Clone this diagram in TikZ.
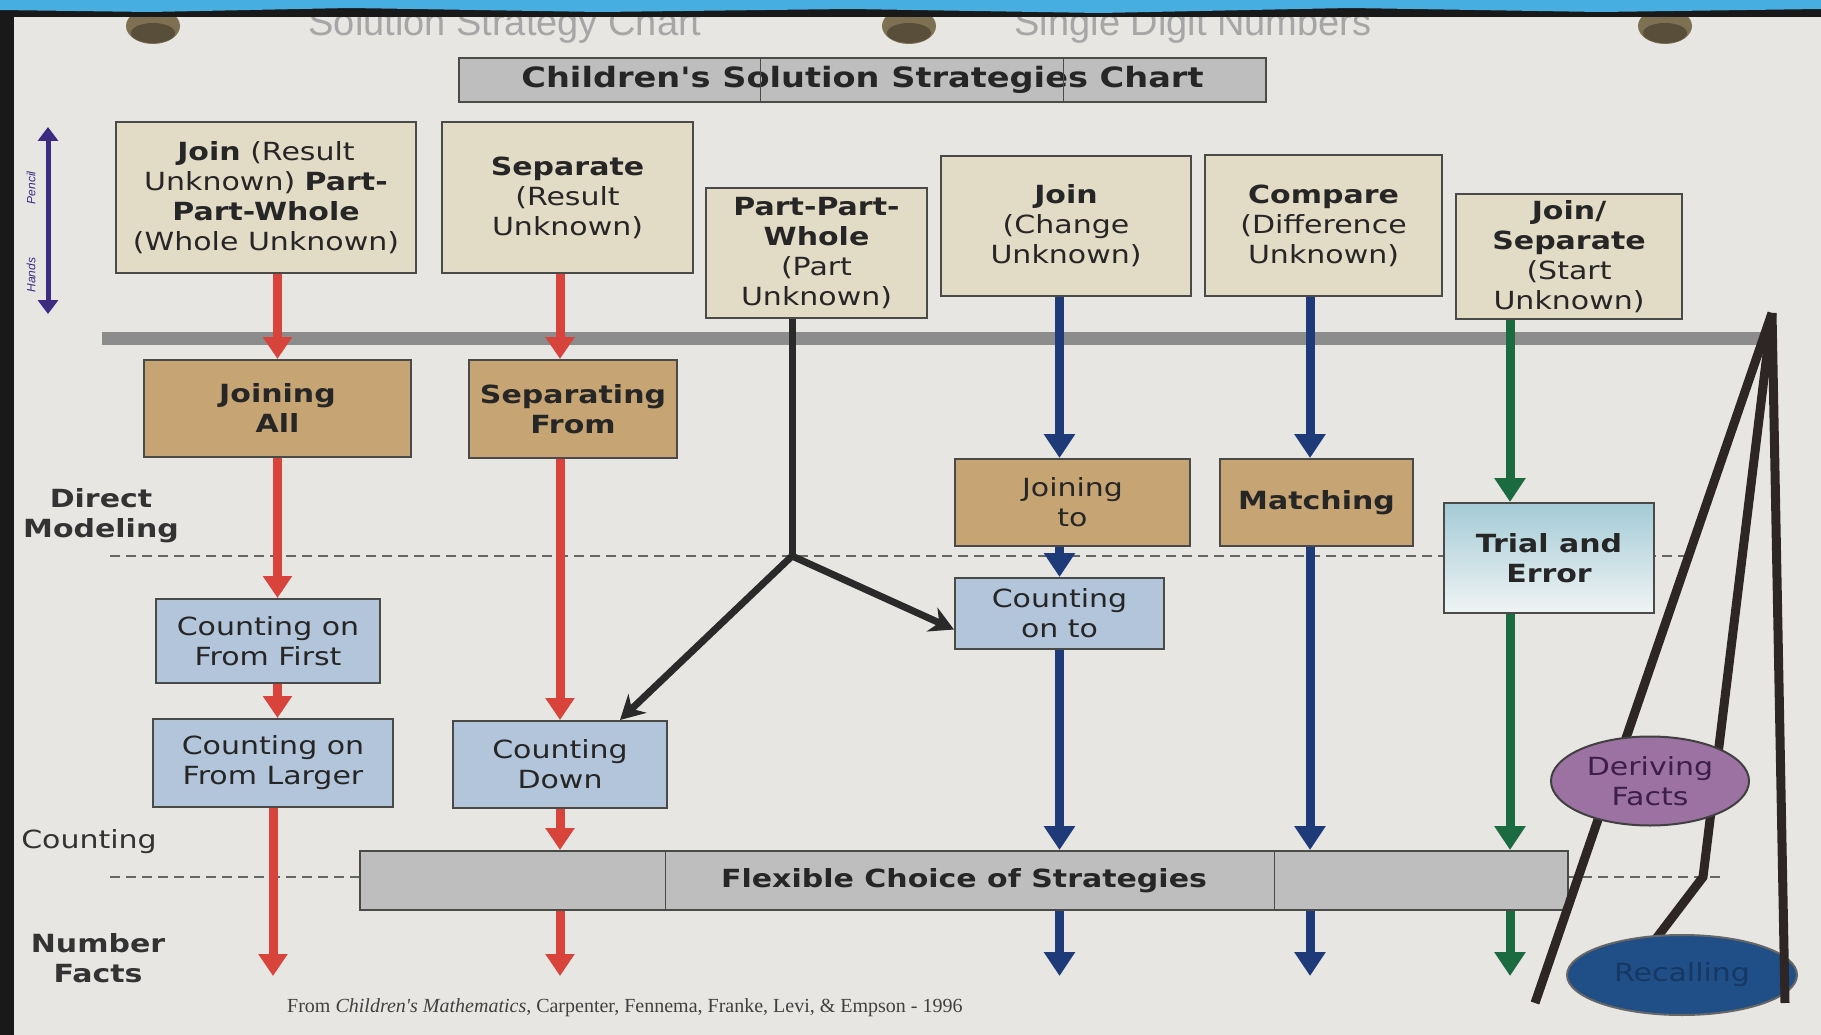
\documentclass[tikz,border=0pt]{standalone}
\usepackage{fontspec}
\usetikzlibrary{arrows.meta,calc,shapes.geometric}
\newfontfamily\comic{DejaVu Sans}[FakeStretch=1.2]
\newfontfamily\citefont{Liberation Serif}
\newfontfamily\handfont{Liberation Sans}
\definecolor{paper}{HTML}{E8E6E3}
\definecolor{beige}{HTML}{E2DBC6}
\definecolor{tanc}{HTML}{C6A473}
\definecolor{steel}{HTML}{B3C5DB}
\definecolor{marble}{HTML}{BEBEBE}
\definecolor{boxline}{HTML}{4A4A48}
\definecolor{redc}{HTML}{D8433C}
\definecolor{navyc}{HTML}{1E3A78}
\definecolor{greenc}{HTML}{1C6A40}
\definecolor{blackc}{HTML}{2A2A2A}
\definecolor{tri}{HTML}{2D2624}
\definecolor{derivec}{HTML}{9C72A2}
\definecolor{derivetext}{HTML}{3C1E4B}
\definecolor{recallc}{HTML}{1F4F86}
\definecolor{recalltext}{HTML}{163864}
\definecolor{trialtop}{HTML}{A4CBD6}
\definecolor{trialbot}{HTML}{F0F4F4}
\definecolor{holec}{HTML}{7E7052}
\definecolor{streak}{HTML}{46AEE0}
\definecolor{purpc}{HTML}{3C2B80}
\begin{document}
\begin{tikzpicture}[x=1pt,y=-1pt,
  box/.style={draw=boxline, line width=2pt, align=center, inner sep=0pt,
    text=black!85, font=\comic\fontsize{25}{30}\selectfont},
  probbox/.style={box, fill=beige},
  tanbox/.style={box, fill=tanc},
  bluebox/.style={box, fill=steel},
  marblebox/.style={box, fill=marble},
  boldtxt/.style={font=\comic\bfseries\fontsize{25}{30}\selectfont},
  lab/.style={align=center, inner sep=0pt, text=black!80, font=\comic\fontsize{25}{30}\selectfont},
  redarr/.style={draw=redc, line width=9pt, -{Triangle[width=28pt,length=22pt]}},
  navyarr/.style={draw=navyc, line width=9pt, -{Triangle[width=30pt,length=24pt]}},
  greenarr/.style={draw=greenc, line width=9pt, -{Triangle[width=30pt,length=24pt]}},
  blackarr/.style={draw=blackc, line width=7pt, -{Stealth[width=26pt,length=24pt]}},
  blackline/.style={draw=blackc, line width=7pt},
  triline/.style={draw=tri, line width=9pt},
  dashline/.style={draw=black!60, line width=2pt, dash pattern=on 10pt off 6pt},
  faint/.style={inner sep=0pt, text=black!35, font=\handfont\fontsize{38}{42}\selectfont}
]
\useasboundingbox (0,0) rectangle (1821,1035);
% photo frame and paper
\fill[black!90] (0,0) rectangle (1821,1035);
\fill[paper] (14,17) rectangle (1821,1035);
\node[faint, anchor=base] (hw1) at (505,36) {Solution Strategy Chart};
\node[faint, anchor=base] (hw2) at (1193,36) {Single Digit Numbers};
\foreach \hx in {153,909,1665}{
  \fill[holec] (\hx,26) ellipse [x radius=27pt, y radius=18pt];
  \fill[holec!70!black] (\hx,33) ellipse [x radius=22pt, y radius=10pt];
}
\fill[black!90] (0,0) rectangle (1821,17);
\fill[streak] (0,0) -- (1821,0) -- (1821,9) -- (1600,12) -- (1350,8) -- (1100,13)
  -- (850,9) -- (600,12) -- (350,8) -- (150,12) -- (0,10) -- cycle;

% handwritten double arrow
\coordinate (pa) at (48,127);
\coordinate (pb) at (48,314);
\draw[purpc, line width=5pt, {Triangle[width=20pt,length=14pt]}-{Triangle[width=20pt,length=14pt]}] (pa) -- (pb);
\node[rotate=90, text=purpc, font=\handfont\itshape\fontsize{12}{12}\selectfont] (pencil) at (31,188) {Pencil};
\node[rotate=90, text=purpc, font=\handfont\itshape\fontsize{12}{12}\selectfont] (hands) at (31,275) {Hands};

% title
\node[marblebox, minimum width=807pt, minimum height=44pt, font=\comic\bfseries\fontsize{28}{30}\selectfont] (title) at (862.5,80) {Children's Solution Strategies Chart};
\draw[boxline, line width=1pt] (760,58) -- (760,102) (1063,58) -- (1063,102);

% separator bar
\fill[black!45] (102,332) rectangle (1768,345);

% dashed level lines
\draw[dashline] (110,556) -- (1686,556);
\draw[dashline] (110,877) -- (1722,877);

% problem type boxes
\node[probbox, minimum width=300pt, minimum height=151pt] (p1) at (266,197.5)
  {\textbf{Join} (Result\\Unknown) \textbf{Part-}\\\textbf{Part-Whole}\\(Whole Unknown)};
\node[probbox, minimum width=251pt, minimum height=151pt] (p2) at (567.5,197.5)
  {\textbf{Separate}\\(Result\\Unknown)};
\node[probbox, minimum width=221pt, minimum height=130pt] (p3) at (816.5,253)
  {\textbf{Part-Part-}\\\textbf{Whole}\\(Part\\Unknown)};
\node[probbox, minimum width=250pt, minimum height=140pt] (p4) at (1066,226)
  {\textbf{Join}\\(Change\\Unknown)};
\node[probbox, minimum width=237pt, minimum height=141pt] (p5) at (1323.5,225.5)
  {\textbf{Compare}\\(Difference\\Unknown)};
\node[probbox, minimum width=226pt, minimum height=125pt] (p6) at (1569,256.5)
  {\textbf{Join/}\\\textbf{Separate}\\(Start\\Unknown)};

% direct modeling strategies
\node[tanbox, boldtxt, minimum width=267pt, minimum height=97pt] (jall) at (277.5,408.5) {Joining\\All};
\node[tanbox, boldtxt, minimum width=208pt, minimum height=98pt] (sepf) at (573,409) {Separating\\From};
\node[tanbox, minimum width=235pt, minimum height=87pt] (jto) at (1072.5,502.5) {Joining\\to};
\node[tanbox, boldtxt, minimum width=193pt, minimum height=87pt] (match) at (1316.5,502.5) {Matching};
\node[box, boldtxt, top color=trialtop, bottom color=trialbot, minimum width=210pt, minimum height=110pt] (trial) at (1549,558) {Trial and\\Error};

% counting strategies
\node[bluebox, minimum width=224pt, minimum height=84pt] (cff) at (268,641) {Counting on\\From First};
\node[bluebox, minimum width=240pt, minimum height=88pt] (cfl) at (273,763) {Counting on\\From Larger};
\node[bluebox, minimum width=214pt, minimum height=87pt] (cdown) at (560,764.5) {Counting\\Down};
\node[bluebox, minimum width=209pt, minimum height=71pt] (conto) at (1059.5,613.5) {Counting\\on to};

% flexible choice
\node[marblebox, boldtxt, minimum width=1208pt, minimum height=59pt] (flex) at (964,880.5) {Flexible Choice of Strategies};
\draw[boxline, line width=1pt] (665,851) -- (665,910) (1274,851) -- (1274,910);

% level labels
\node[lab, boldtxt] (dm) at (101,516) {Direct\\Modeling};
\node[lab] (cnt) at (89,842) {Counting};
\node[lab, boldtxt] (nfl) at (98,958) {Number\\Facts};

% columns and the number facts level
\coordinate (nfrow) at (0,976);
\coordinate (gcol) at (1510,0);
\coordinate (mcol) at (1310,0);

% red arrows
\draw[redarr] (jall.north |- p1.south) -- (jall.north);
\draw[redarr] (jall.south) -- (jall.south |- cff.north);
\draw[redarr] (jall.south |- cff.south) -- (jall.south |- cfl.north);
\draw[redarr] (cfl.south) -- (cfl.south |- nfrow);
\draw[redarr] (cdown.north |- p2.south) -- (cdown.north |- sepf.north);
\draw[redarr] (cdown.north |- sepf.south) -- (cdown.north);
\draw[redarr] (cdown.south) -- (cdown.south |- flex.north);
\draw[redarr] (cdown.south |- flex.south) -- (cdown.south |- nfrow);

% black arrows (part-part-whole)
\coordinate (jn) at (792,556);
\draw[blackline] (jn |- p3.south) -- (jn);
\draw[blackarr] (jn) -- ($(cdown.north)+(60,0)$);
\draw[blackarr] (jn) -- ($(conto.west)+(0,16)$);

% navy arrows
\draw[navyarr] (conto.north |- p4.south) -- (conto.north |- jto.north);
\draw[navyarr] (conto.north |- jto.south) -- (conto.north);
\draw[navyarr] (conto.south) -- (conto.south |- flex.north);
\draw[navyarr] (conto.south |- flex.south) -- (conto.south |- nfrow);
\draw[navyarr] (mcol |- p5.south) -- (mcol |- match.north);
\draw[navyarr] (mcol |- match.south) -- (mcol |- flex.north);
\draw[navyarr] (mcol |- flex.south) -- (mcol |- nfrow);

% green arrows
\draw[greenarr] (gcol |- p6.south) -- (gcol |- trial.north);
\draw[greenarr] (gcol |- trial.south) -- (gcol |- flex.north);
\draw[greenarr] (gcol |- flex.south) -- (gcol |- nfrow);

% triangle of strategies
\coordinate (apex) at (1772,313);
\coordinate (la) at (1535,1003);
\coordinate (lb1) at (1703,877);
\coordinate (lb2) at (1655,940);
\coordinate (lc) at (1785,1003);
\draw[triline] (apex) -- (la);
\draw[triline] (apex) -- (lb1) -- (lb2);
\node[ellipse, draw=black!75, line width=2pt, fill=derivec, minimum width=198pt, minimum height=89pt, inner sep=0pt,
  align=center, text=derivetext, font=\comic\fontsize{25}{30}\selectfont] (derive) at (1650,781) {Deriving\\Facts};
\node[ellipse, draw=black!60, line width=2pt, fill=recallc, minimum width=230pt, minimum height=80pt, inner sep=0pt,
  text=recalltext, font=\comic\fontsize{25}{30}\selectfont] (recall) at (1682,975) {Recalling};
\draw[triline] (apex) -- (lc);

% citation
\node[anchor=west, inner sep=0pt, text=black!75, font=\citefont\fontsize{20}{22}\selectfont] (cite) at (287,1008)
  {From \textit{Children's Mathematics}, Carpenter, Fennema, Franke, Levi, \& Empson - 1996};
\end{tikzpicture}
\end{document}
